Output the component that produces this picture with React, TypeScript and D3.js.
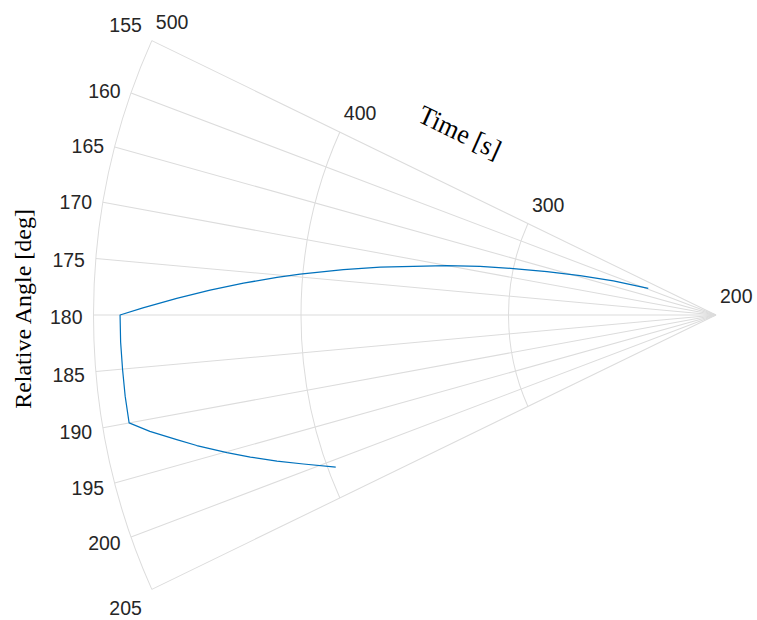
import React from "react";
import * as d3 from "d3";

// Polar axis limits and ticks
const thetaTicks = [155, 160, 165, 170, 175, 180, 185, 190, 195, 200, 205];
const timeTicks = [200, 300, 400, 500];
const thetaLimits = [155, 205];
const timeLimits = [200, 500];

// Trajectory: relative angle [deg] vs time [s]
const angleDeg = [
  159.3, 162.3, 164.45, 166.15, 167.6, 168.85, 170.05, 171.25, 172.23, 173.33,
  174.62, 175.31, 176.3, 177.3, 178.3, 179.31, 180.0, 182.5, 185.0, 187.5, 190.0,
  191.15, 192.5, 193.55, 195.1, 196.3, 197.7, 199.1, 201.0,
];
const timeSec = [
  234.9, 251.9, 268.0, 283.9, 300.0, 315.9, 331.8, 347.6, 363.3, 380.8, 401.3,
  412.3, 428.2, 444.1, 460.0, 476.2, 487.2, 487.2, 487.1, 487.2, 487.2, 478.1,
  466.2, 457.4, 444.1, 433.8, 422.1, 410.4, 396.3,
];

const W = 757;
const H = 620;
const cx = 716;
const cy = 315;
const R = 622.5;
const yStretch = 1.043;

const gridColor = "#dcdcdc";
const textColor = "#262626";
const lineColor = "#0072BD";
const tickFont = "'Liberation Sans', Arial, Helvetica, sans-serif";
const labelFont = "'Liberation Serif', 'DejaVu Serif', serif";

const rad = (deg: number) => (deg * Math.PI) / 180;

export default function App() {
  const r = d3.scaleLinear().domain(timeLimits).range([0, R]);
  const px = (th: number, t: number) => cx + r(t) * Math.cos(rad(th));
  const py = (th: number, t: number) => cy - r(t) * Math.sin(rad(th));

  // Circular grid arcs (screen angles run clockwise, so theta is negated)
  const arcPath = (t: number) => {
    const p = d3.path();
    const a0 = rad(-thetaLimits[1]);
    const a1 = rad(-thetaLimits[0]);
    p.moveTo(cx + r(t) * Math.cos(a0), cy + r(t) * Math.sin(a0));
    p.arc(cx, cy, r(t), a0, a1, false);
    return p.toString();
  };

  const data = angleDeg.map((a, i) => ({ a, t: timeSec[i] }));
  const line = d3
    .lineRadial<{ a: number; t: number }>()
    .angle((d) => rad(90 - d.a))
    .radius((d) => r(d.t));

  const tickFs = 19.5;
  const u = (screenPx: number) => screenPx / yStretch;
  const labelGap = 11;

  return (
    <svg
      width={W}
      height={H}
      viewBox={`0 0 ${W} ${H}`}
      style={{ position: "absolute", left: 0, top: 0, background: "#fff" }}
    >
      <g transform={`translate(0,${cy}) scale(1,${yStretch}) translate(0,${-cy})`}>
        {/* spokes */}
        {thetaTicks.map((th) => (
          <line
            key={`s${th}`}
            x1={cx}
            y1={cy}
            x2={px(th, timeLimits[1])}
            y2={py(th, timeLimits[1])}
            stroke={gridColor}
            strokeWidth={1}
          />
        ))}
        {/* rings */}
        {timeTicks
          .filter((t) => t > timeLimits[0])
          .map((t) => (
            <path key={`r${t}`} d={arcPath(t)} fill="none" stroke={gridColor} strokeWidth={1} />
          ))}

        {/* data */}
        <path
          d={line(data) || ""}
          transform={`translate(${cx},${cy})`}
          fill="none"
          stroke={lineColor}
          strokeWidth={1.2}
          strokeLinejoin="round"
        />

        {/* theta tick labels, just outside the outer ring */}
        {thetaTicks.map((th, i) => {
          const rr = R + labelGap;
          let x = cx + rr * Math.cos(rad(th));
          let y = cy - rr * Math.sin(rad(th)) + u(2);
          if (i === 0) {
            x = px(th, timeLimits[1]) - 10;
            y = py(th, timeLimits[1]) - u(15.7);
          }
          if (i === thetaTicks.length - 1) {
            x = px(th, timeLimits[1]) - 10;
            y = py(th, timeLimits[1]) + u(18.7);
          }
          return (
            <text
              key={`tl${th}`}
              x={x}
              y={y}
              textAnchor="end"
              dominantBaseline="central"
              fontFamily={tickFont}
              fontSize={tickFs}
              fill={textColor}
            >
              {th}
            </text>
          );
        })}

        {/* radial tick labels along the 155° edge */}
        {timeTicks.map((t) => (
          <text
            key={`rl${t}`}
            x={px(thetaLimits[0], t) + 4}
            y={py(thetaLimits[0], t) - u(19)}
            textAnchor="start"
            dominantBaseline="central"
            fontFamily={tickFont}
            fontSize={tickFs}
            fill={textColor}
          >
            {t}
          </text>
        ))}

        {/* axis labels */}
        <text
          transform={`translate(460,${cy + u(132 - cy)}) rotate(25)`}
          textAnchor="middle"
          dominantBaseline="central"
          fontFamily={labelFont}
          fontSize={26}
          fill="#000"
        >
          Time [s]
        </text>
        <text
          transform={`translate(23,${cy + u(309 - cy)}) rotate(-90)`}
          textAnchor="middle"
          dominantBaseline="central"
          fontFamily={labelFont}
          fontSize={23}
          fill="#000"
        >
          Relative Angle [deg]
        </text>
      </g>
    </svg>
  );
}
